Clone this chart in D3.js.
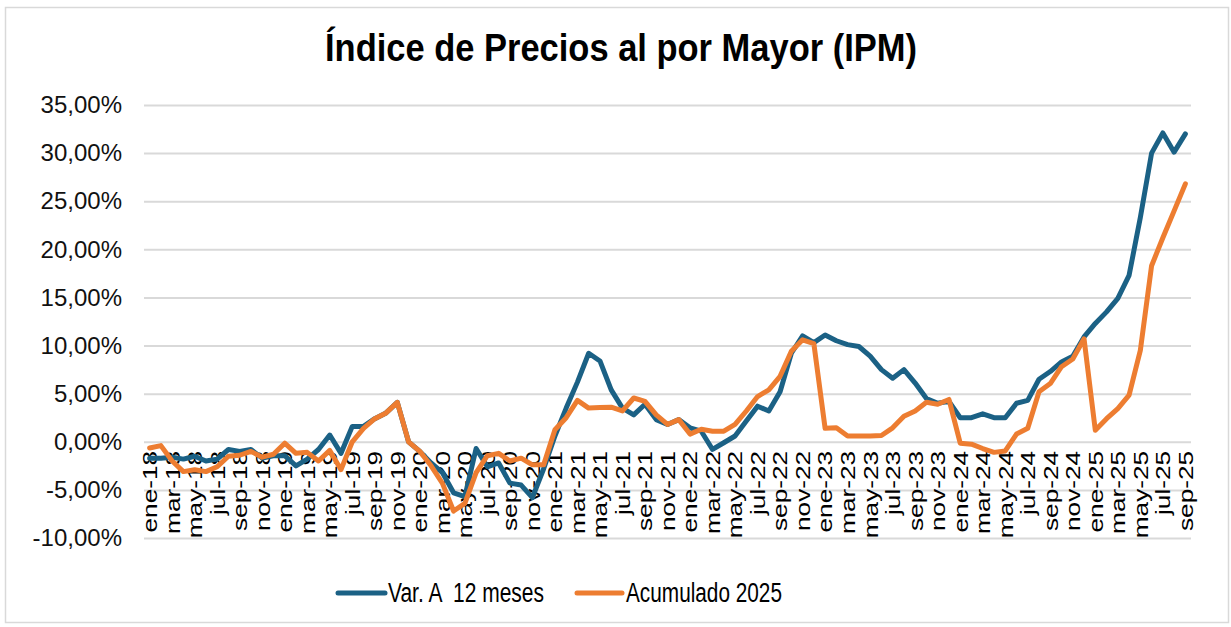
<!DOCTYPE html>
<html lang="es">
<head>
  <meta charset="UTF-8">
  <title>Índice de Precios al por Mayor (IPM)</title>
  <script src="https://d3js.org/d3.v7.min.js"></script>
  <style>
    body { margin: 0; background: #fff; font-family: "Liberation Sans", Arial, sans-serif; }
    svg { display: block; }
  </style>
</head>
<body>
<div id="chart"></div>
<script>
const width = 1231, height = 627;

// data: monthly values, ene-18 .. sep-25 (percent)
const monthNames = ["ene","feb","mar","abr","may","jun","jul","ago","sep","oct","nov","dic"];
const years = ["18","19","20","21","22","23","24","25"];
const categories = [];
years.forEach(y => monthNames.forEach(m => categories.push(m + "-" + y)));
categories.splice(categories.indexOf("sep-25") + 1);

const var12 = [
  -1.7, -1.7, -1.6, -1.8, -1.5, -2.0, -1.8, -0.8, -1.0, -0.8, -1.7, -1.45,
  -1.45, -2.5, -1.8, -0.8, 0.7, -1.2, 1.6, 1.6, 2.4, 3.0, 4.1, 0.0,
  -1.0, -2.2, -3.2, -5.3, -5.7, -0.7, -2.6, -2.2, -4.3, -4.5, -5.8, -2.8,
  0.6, 3.5, 6.2, 9.2, 8.4, 5.4, 3.5, 2.8, 3.9, 2.3, 1.8, 2.3,
  1.45, 1.1, -0.8, -0.1, 0.6, 2.15, 3.7, 3.2, 5.2, 9.2, 11.0, 10.3,
  11.1, 10.5, 10.1, 9.9, 8.9, 7.5, 6.6, 7.5, 6.1, 4.5, 4.0, 4.2,
  2.5, 2.5, 2.9, 2.5, 2.5, 4.0, 4.3, 6.5, 7.3, 8.3, 8.9, 10.9,
  12.3, 13.5, 14.9, 17.3, 23.3, 30.0, 32.1, 30.1, 32.0
];
const acum = [
  -0.65, -0.4, -2.0, -3.1, -2.9, -3.1, -2.6, -1.5, -1.4, -1.0, -1.6, -1.3,
  -0.15, -1.2, -1.1, -2.0, -0.9, -2.9, 0.0, 1.4, 2.4, 3.0, 4.1, 0.0,
  -1.0, -2.5, -4.3, -7.2, -6.4, -3.2, -1.45, -1.2, -2.0, -1.7, -2.4, -2.4,
  1.25, 2.5, 4.3, 3.5, 3.55, 3.6, 3.2, 4.55, 4.2, 2.8, 1.8, 2.3,
  0.8, 1.3, 1.1, 1.1, 1.8, 3.2, 4.7, 5.4, 6.8, 9.4, 10.6, 10.2,
  1.4, 1.45, 0.6, 0.6, 0.6, 0.65, 1.45, 2.65, 3.2, 4.1, 3.9, 4.4,
  -0.15, -0.25, -0.7, -1.1, -0.95, 0.8, 1.4, 5.2, 6.05, 7.8, 8.6, 10.7,
  1.2, 2.4, 3.45, 4.85, 9.5, 18.3, 21.2, 24.0, 26.8
];
const yTicks = [-10, -5, 0, 5, 10, 15, 20, 25, 30, 35];
const seriesNames = ["Var. A  12 meses", "Acumulado 2025"];
const colors = ["#1b6185", "#ed7d31"];

const margin = { left: 144, right: 40, top: 105, bottom: 89 };

const svg = d3.select("#chart").append("svg")
  .attr("width", width)
  .attr("height", height);

svg.append("rect")
  .attr("x", 5.5).attr("y", 7.5)
  .attr("width", width - 8).attr("height", height - 12)
  .attr("fill", "#fff")
  .attr("stroke", "#d9d9d9")
  .attr("stroke-width", 1.5);

const x = d3.scalePoint()
  .domain(categories)
  .range([margin.left, width - margin.right])
  .padding(0.5);

const y = d3.scaleLinear()
  .domain([-10, 35])
  .range([height - margin.bottom, margin.top]);

// title
svg.append("text")
  .attr("x", 621)
  .attr("y", 61)
  .attr("text-anchor", "middle")
  .attr("textLength", 592)
  .attr("lengthAdjust", "spacingAndGlyphs")
  .style("font-size", "38px")
  .style("font-weight", "bold")
  .style("fill", "#000")
  .text("Índice de Precios al por Mayor (IPM)");

// gridlines + y axis labels
const yAxis = d3.axisLeft(y)
  .tickValues(yTicks)
  .tickSize(-(width - margin.right - margin.left))
  .tickPadding(22)
  .tickFormat(d => d.toFixed(2).replace(".", ",") + "%");

const gy = svg.append("g")
  .attr("transform", `translate(${margin.left},0)`)
  .call(yAxis);
gy.select(".domain").remove();
gy.selectAll(".tick line").attr("stroke", "#d9d9d9").attr("stroke-width", 2);
gy.selectAll(".tick text")
  .style("font-size", "24px")
  .style("fill", "#111")
  .style("font-family", "'Liberation Sans', Arial, sans-serif");

// category labels (every 2nd month), rotated, next to the 0 line
const labelCats = categories.filter((d, i) => i % 2 === 0);
svg.append("g")
  .selectAll("text")
  .data(labelCats)
  .join("text")
  .attr("transform", d => `translate(${x(d)},${y(0) + 9}) rotate(-90) scale(1.25,1)`)
  .attr("text-anchor", "end")
  .attr("dy", "0.35em")
  .style("font-size", "21px")
  .style("fill", "#000")
  .text(d => d);

// lines
const line = d3.line()
  .x((d, i) => x(categories[i]))
  .y(d => y(d));

[var12, acum].forEach((s, k) => {
  svg.append("path")
    .datum(s)
    .attr("fill", "none")
    .attr("stroke", colors[k])
    .attr("stroke-width", 5)
    .attr("stroke-linejoin", "round")
    .attr("stroke-linecap", "round")
    .attr("d", line);
});

// legend
const legendItems = [
  { x1: 338, x2: 385, tx: 388, tw: 156 },
  { x1: 577, x2: 622, tx: 626, tw: 156 }
];
const lg = svg.append("g");
legendItems.forEach((it, k) => {
  lg.append("line")
    .attr("x1", it.x1).attr("x2", it.x2)
    .attr("y1", 593).attr("y2", 593)
    .attr("stroke", colors[k])
    .attr("stroke-width", 5)
    .attr("stroke-linecap", "round");
  lg.append("text")
    .attr("x", it.tx)
    .attr("y", 602)
    .attr("textLength", it.tw)
    .attr("lengthAdjust", "spacingAndGlyphs")
    .style("font-size", "27px")
    .style("fill", "#000")
    .style("white-space", "pre")
    .text(seriesNames[k]);
});
</script>
</body>
</html>
